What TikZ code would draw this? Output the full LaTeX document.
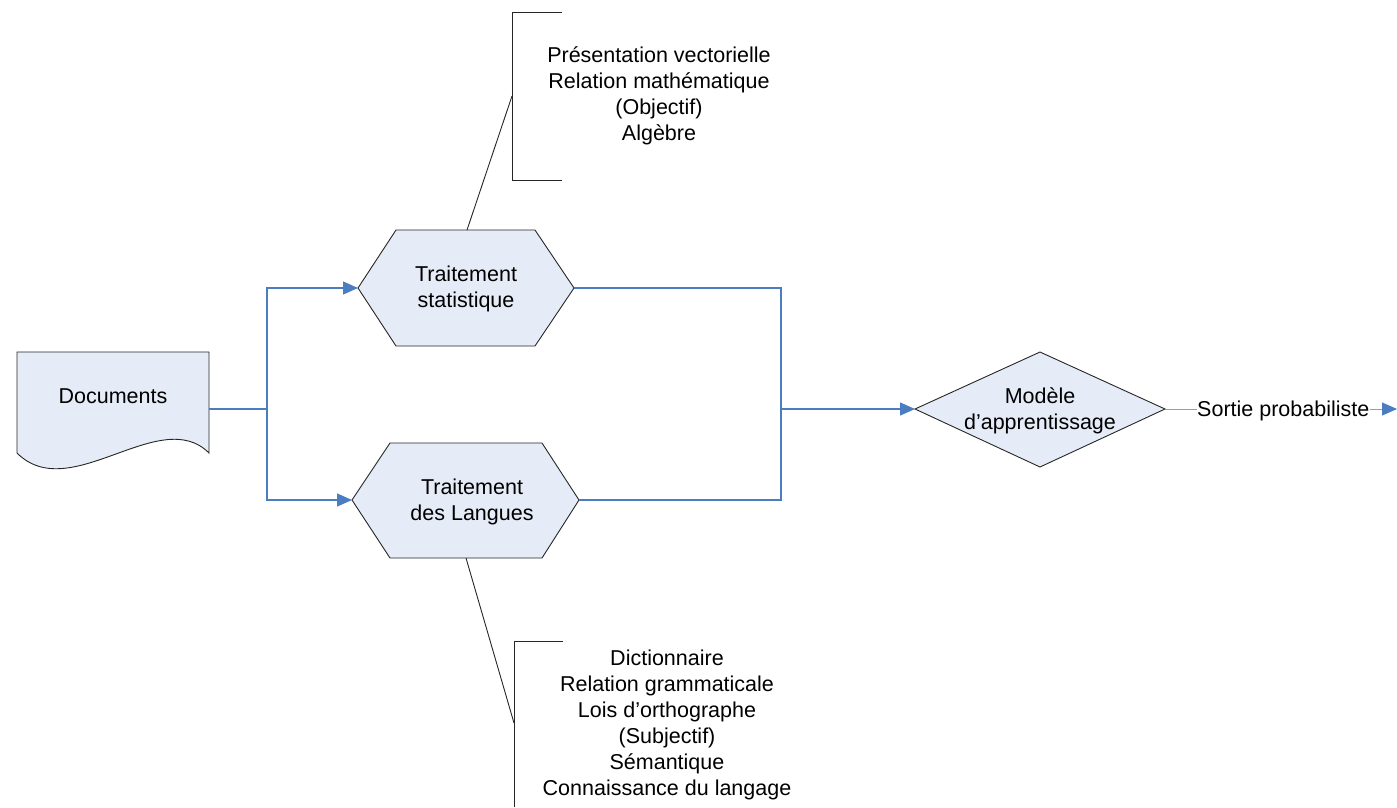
\documentclass[tikz,border=0pt]{standalone}
\usepackage{fontspec}
\setmainfont{Liberation Sans}
\usetikzlibrary{arrows.meta}
\definecolor{fillb}{RGB}{230,236,247}
\definecolor{conn}{RGB}{74,126,193}
\definecolor{connl}{RGB}{125,160,216}
\begin{document}
\begin{tikzpicture}[x=1pt,y=-1pt,
  every node/.style={font=\fontsize{21.5}{26}\selectfont, align=center, inner sep=0pt},
  shapeline/.style={draw=black!85, line width=0.9pt, fill=fillb},
  link/.style={draw=conn, line width=1.3pt},
  linklight/.style={draw=connl, line width=1pt},
  tip/.style={-{Triangle[length=15pt,width=13pt,color=conn]}},
  note/.style={draw=black!85, line width=0.9pt}]
\useasboundingbox (0,0) rectangle (1397,807);

% Documents
\draw[shapeline] (17,352) -- (209,352) -- (209,453)
  .. controls (160,404) and (70,506) .. (17,453) -- cycle;
\node (docs) at (113,396) {Documents};

% Hexagons
\draw[shapeline] (358,288) -- (396,230) -- (535,230) -- (574,288) -- (535,346) -- (396,346) -- cycle;
\node (hstext) at (466,289) {Traitement\\statistique};
\draw[shapeline] (352,500) -- (390,443) -- (542,443) -- (579,500) -- (542,558) -- (390,558) -- cycle;
\node (hltext) at (472,502) {Traitement\\des Langues};

% Diamond
\draw[shapeline] (915,409) -- (1040,352) -- (1165,409) -- (1040,467) -- cycle;
\node (mdtext) at (1040,411) {Modèle\\d’apprentissage};

% anchor coordinates
\coordinate (docE) at (209,409);
\coordinate (split) at (267,409);
\coordinate (join) at (781,409);
\coordinate (hsW) at (358,288);
\coordinate (hsE) at (574,288);
\coordinate (hlW) at (352,500);
\coordinate (hlE) at (579,500);
\coordinate (mdW) at (915,409);
\coordinate (mdE) at (1165,409);
\coordinate (hsN) at (467,230);
\coordinate (hlS) at (466,558);
\coordinate (b1) at (512,96);
\coordinate (b2) at (514,723);
\coordinate (outend) at (1397,409);

% connectors
\draw[link] (docE) -- (split);
\draw[link,tip] (split) |- (hsW);
\draw[link,tip] (split) |- (hlW);
\draw[link] (hsE) -| (join);
\draw[link] (hlE) -| (join);
\draw[link,tip] (join) -- (mdW);

\node[anchor=west] (out) at (1197,411) {Sortie probabiliste};
\draw[linklight] (mdE) -- (out.west |- mdE);
\draw[linklight,tip] (out.east |- mdE) -- (outend);

% annotation brackets
\draw[note] (562,12) -- (512,12) -- (512,180) -- (562,180);
\draw[note] (hsN) -- (b1);
\node (topnote) at (659,96) {Présentation vectorielle\\Relation mathématique\\(Objectif)\\Algèbre};

\draw[note] (563,641) -- (514,641) -- (514,807);
\draw[note] (hlS) -- (b2);
\node (botnote) at (667,725) {Dictionnaire\\Relation grammaticale\\Lois d’orthographe\\(Subjectif)\\Sémantique\\Connaissance du langage};
\end{tikzpicture}
\end{document}
